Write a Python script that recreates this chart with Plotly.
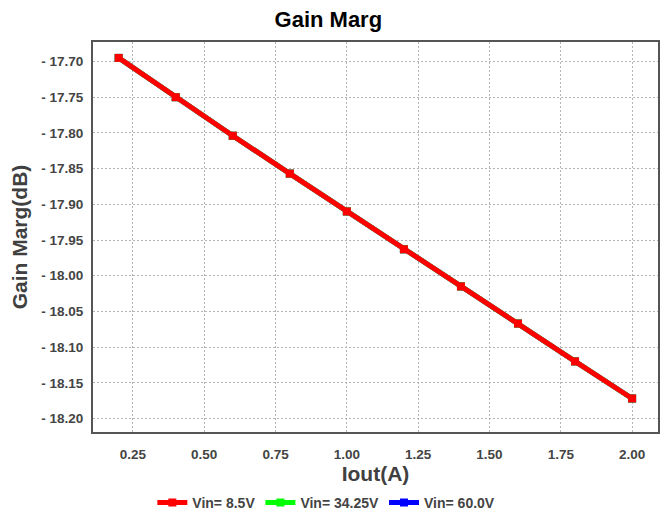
import plotly.graph_objects as go

# Output current (A) and measured gain margin (dB) per input voltage
iout = [0.2, 0.4, 0.6, 0.8, 1.0, 1.2, 1.4, 1.6, 1.8, 2.0]
gain_8v5 = [-17.695, -17.750, -17.804, -17.857, -17.910, -17.963, -18.015, -18.067, -18.120, -18.172]
gain_34v25 = [-17.695, -17.750, -17.804, -17.857, -17.910, -17.963, -18.015, -18.067, -18.120, -18.172]
gain_60v = [-17.695, -17.750, -17.804, -17.857, -17.910, -17.963, -18.015, -18.067, -18.120, -18.172]

series_names = ["Vin= 8.5V", "Vin= 34.25V", "Vin= 60.0V"]
series_colors = ["#ff0000", "#00ff00", "#0000ff"]

x_ticks = [0.25, 0.50, 0.75, 1.00, 1.25, 1.50, 1.75, 2.00]
y_ticks = [-17.70, -17.75, -17.80, -17.85, -17.90, -17.95, -18.00, -18.05, -18.10, -18.15, -18.20]
y_ticktext = ["- %.2f" % abs(v) for v in y_ticks]

FONT = "Liberation Sans, Arial, sans-serif"

fig = go.Figure()
# draw the blue and green series first so the red one sits on top
for vals, name, color, rank in reversed(list(zip(
        [gain_8v5, gain_34v25, gain_60v], series_names, series_colors, [1, 2, 3]))):
    fig.add_trace(go.Scatter(
        x=iout, y=vals, name=name, mode="lines+markers",
        line=dict(color=color, width=5),
        marker=dict(symbol="square", size=8, color=color),
        legendrank=rank,
    ))

axis_common = dict(
    showline=True, linecolor="#555555", linewidth=2, mirror=True,
    showgrid=True, gridcolor="#b4b4b4", griddash="2px,2px", gridwidth=1,
    zeroline=False, ticks="",
    tickfont=dict(family=FONT, size=13.5, color="#444444", weight="bold"),
)

fig.update_layout(
    width=666, height=518,
    paper_bgcolor="white", plot_bgcolor="white",
    margin=dict(l=93, r=6, t=42, b=82),
    title=dict(text="<b>Gain Marg</b>", xref="container", x=0.493, xanchor="center",
               yref="container", y=0.962, yanchor="middle",
               font=dict(family=FONT, size=22, color="#000000")),
    xaxis=dict(range=[0.110, 2.0908], tickvals=x_ticks,
               ticktext=["%.2f" % v for v in x_ticks],
               ticklabelstandoff=9,
               title=dict(text="<b>Iout(A)</b>", standoff=4,
                          font=dict(family=FONT, size=21, color="#404040")),
               **axis_common),
    yaxis=dict(range=[-18.219, -17.6727], tickvals=y_ticks, ticktext=y_ticktext,
               ticklabelstandoff=5,
               title=dict(text="<b>Gain Marg(dB)</b>", standoff=8,
                          font=dict(family=FONT, size=21, color="#404040")),
               **axis_common),
    legend=dict(orientation="h", xref="container", x=0.49, xanchor="center",
                yref="container", y=0.029, yanchor="middle",
                font=dict(family=FONT, size=14, color="#444444", weight="bold"),
                itemwidth=30, tracegroupgap=0),
    showlegend=True,
)

fig.write_html("out.html")
